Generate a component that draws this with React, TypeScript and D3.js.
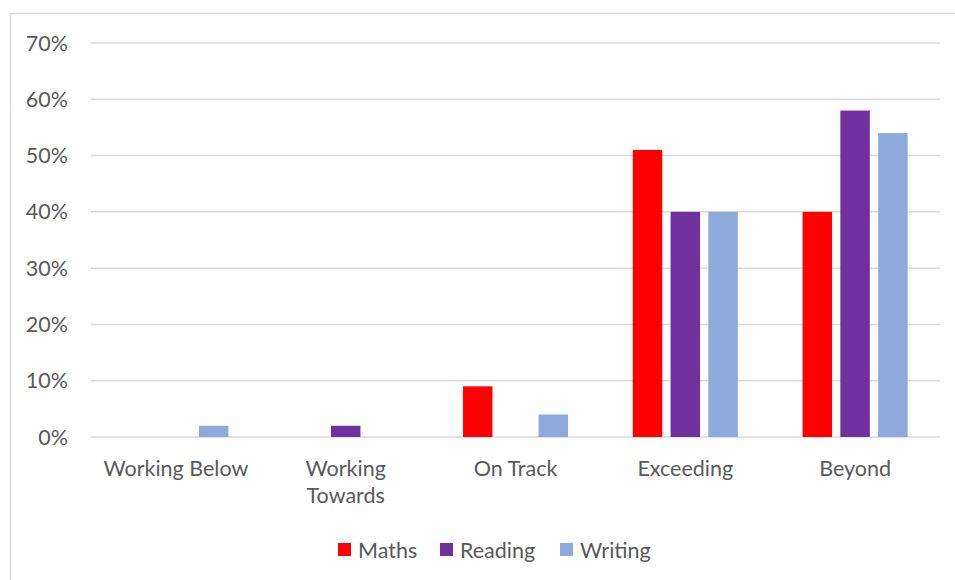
import * as d3 from "d3";

const categories = ["Working Below", "Working Towards", "On Track", "Exceeding", "Beyond"];
const series = ["Maths", "Reading", "Writing"];
const maths = [0, 0, 9, 51, 40];
const reading = [0, 2, 0, 40, 58];
const writing = [2, 0, 4, 40, 54];
const yTicks = [0, 10, 20, 30, 40, 50, 60, 70];

const COLORS: Record<string, string> = {
  Maths: "#FF0000",
  Reading: "#7030A0",
  Writing: "#8EA9DB",
};

const W = 955;
const H = 580;
const FONT = "Lato, 'Open Sans', sans-serif";
const TEXT = "#595959";
const FS = 21.5;

export default function App() {
  const values: Record<string, number[]> = { Maths: maths, Reading: reading, Writing: writing };
  const left = 91;
  const right = 940;
  const top = 43;
  const bottom = 437;

  const x0 = d3.scaleBand<string>().domain(categories).range([left, right]).padding(0);
  const x1 = d3
    .scaleBand<string>()
    .domain(series)
    .range([0, x0.bandwidth()])
    .paddingInner(0.22)
    .paddingOuter(0.857);
  const y = d3.scaleLinear().domain([0, 70]).range([bottom, top]);

  // wrap long labels like Excel does
  const labelLines = (c: string) => (c.length > 14 ? c.split(" ") : [c]);

  const legendItems = [
    { name: "Maths", x: 338 },
    { name: "Reading", x: 440 },
    { name: "Writing", x: 560 },
  ];

  return (
    <svg
      width={W}
      height={H}
      style={{ position: "absolute", left: 0, top: 0, display: "block" }}
      fontFamily={FONT}
    >
      <rect x={0} y={0} width={W} height={H} fill="#fff" />
      <rect x={10.5} y={13.5} width={W} height={H} fill="none" stroke="#d9d9d9" strokeWidth={1.5} />

      {yTicks.map((t) => (
        <g key={t}>
          <line x1={left} x2={right} y1={y(t)} y2={y(t)} stroke="#d9d9d9" strokeWidth={1.5} />
          <text x={68} y={y(t)} dy="0.35em" textAnchor="end" fontSize={FS} fill={TEXT}>
            {t}%
          </text>
        </g>
      ))}

      {categories.map((c, i) => (
        <g key={c} transform={`translate(${x0(c)},0)`}>
          {series.map((s) => (
            <rect
              key={s}
              x={x1(s)}
              y={y(values[s][i])}
              width={x1.bandwidth()}
              height={bottom - y(values[s][i])}
              fill={COLORS[s]}
            />
          ))}
        </g>
      ))}

      {categories.map((c) => (
        <text
          key={c}
          x={(x0(c) ?? 0) + x0.bandwidth() / 2}
          y={468}
          textAnchor="middle"
          fontSize={FS}
          fill={TEXT}
        >
          {labelLines(c).map((l, k) => (
            <tspan key={k} x={(x0(c) ?? 0) + x0.bandwidth() / 2} dy={k === 0 ? "0.35em" : 27}>
              {l}
            </tspan>
          ))}
        </text>
      ))}

      {legendItems.map((it) => (
        <g key={it.name}>
          <rect x={it.x} y={543} width={13} height={13} fill={COLORS[it.name]} />
          <text x={it.x + 20} y={550} dy="0.35em" fontSize={FS} fill={TEXT}>
            {it.name}
          </text>
        </g>
      ))}
    </svg>
  );
}
